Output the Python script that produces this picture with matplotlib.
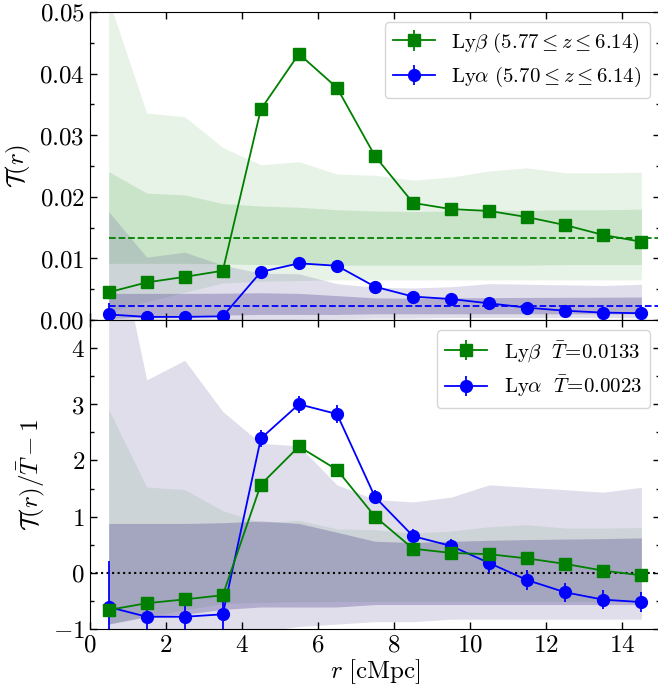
import numpy as np
import matplotlib
matplotlib.use('Agg')
import matplotlib.pyplot as plt
from matplotlib.ticker import FuncFormatter, MultipleLocator

plt.rcParams['mathtext.fontset'] = 'cm'
plt.rcParams['font.family'] = 'serif'

# bin centres [cMpc]
r = np.arange(0.5, 15.0, 1.0)

# transmission T(r) around galaxies
T_beta = [0.0045, 0.0061, 0.0070, 0.0080, 0.0342, 0.0432, 0.0377, 0.0266,
          0.0190, 0.0180, 0.0177, 0.0167, 0.0154, 0.0138, 0.0127]
T_beta_err = [0.0004, 0.0004, 0.0004, 0.0004, 0.0004, 0.0004, 0.0004, 0.0004,
              0.0004, 0.0004, 0.0004, 0.0004, 0.0004, 0.0004, 0.0004]
T_alpha = [0.0009, 0.0005, 0.0005, 0.0006, 0.0078, 0.0092, 0.0088, 0.0054,
           0.0038, 0.0034, 0.0027, 0.0020, 0.0015, 0.0012, 0.0011]
T_alpha_err = [0.0019, 0.0007, 0.0007, 0.0006, 0.00035, 0.00035, 0.00035, 0.0003,
               0.0003, 0.0003, 0.0004, 0.0004, 0.0004, 0.0004, 0.0004]

# mean transmission
Tbar_beta = 0.0133
Tbar_alpha = 0.0023

# random-position bands (inner / outer)
beta_out_hi = [0.052, 0.0336, 0.0330, 0.0280, 0.0252, 0.0257, 0.0237, 0.0235,
               0.0227, 0.0232, 0.0242, 0.0247, 0.0239, 0.0239, 0.0240]
beta_out_lo = [0.0012, 0.0030, 0.0045, 0.0060, 0.0063, 0.0064, 0.0065, 0.0065,
               0.0065, 0.0065, 0.0065, 0.0065, 0.0065, 0.0065, 0.0065]
beta_in_hi = [0.0241, 0.0206, 0.0203, 0.0189, 0.0185, 0.0183, 0.0179, 0.0177,
              0.0176, 0.0177, 0.0178, 0.0178, 0.0179, 0.0179, 0.0180]
beta_in_lo = [0.0092, 0.0092, 0.0092, 0.0091, 0.0090, 0.0090, 0.0089, 0.0089,
              0.0089, 0.0089, 0.0089, 0.0089, 0.0090, 0.0090, 0.0090]
alpha_out_hi = [0.0176, 0.0102, 0.0110, 0.0089, 0.0076, 0.0075, 0.0059, 0.0053,
                0.0052, 0.0054, 0.0059, 0.0058, 0.0057, 0.0056, 0.0058]
alpha_out_lo = [-0.0020, -0.0012, -0.0008, -0.0004, -0.0001, 0.0001, 0.0002, 0.0003,
                0.0003, 0.0004, 0.0004, 0.0004, 0.0004, 0.0004, 0.0004]
alpha_in_hi = [0.00432, 0.00432, 0.00432, 0.00435, 0.00442, 0.00432, 0.00396, 0.00359,
               0.00354, 0.00359, 0.00363, 0.00366, 0.00368, 0.00370, 0.00373]
alpha_in_lo = [0.0002, 0.0005, 0.0006, 0.0008, 0.0009, 0.0009, 0.0009, 0.0010,
               0.0010, 0.0010, 0.0010, 0.0010, 0.0010, 0.0010, 0.0010]

lab_top = [r'$\mathrm{Ly}\beta\ (5.77 \leq z \leq 6.14)$',
           r'$\mathrm{Ly}\alpha\ (5.70 \leq z \leq 6.14)$']
lab_bot = [r'$\mathrm{Ly}\beta\ \ \bar{T}\!=\!0.0133$',
           r'$\mathrm{Ly}\alpha\ \ \bar{T}\!=\!0.0023$']

gcol = 'green'
bcol = 'blue'
pcol = 'darkslateblue'

fig = plt.figure(figsize=(6.58, 6.88), dpi=100)
ax1 = fig.add_axes([0.1362, 0.5349, 0.8675, 0.4477])
ax2 = fig.add_axes([0.1362, 0.0858, 0.8675, 0.4491], sharex=ax1)

def arr(a):
    return np.asarray(a, dtype=float)

# ---- top panel
ax1.fill_between(r, beta_out_lo, beta_out_hi, color=gcol, alpha=0.09, lw=0)
ax1.fill_between(r, beta_in_lo, beta_in_hi, color=gcol, alpha=0.13, lw=0)
ax1.fill_between(r, alpha_out_lo, alpha_out_hi, color=pcol, alpha=0.17, lw=0)
ax1.fill_between(r, alpha_in_lo, alpha_in_hi, color=pcol, alpha=0.3, lw=0)
ax1.axhline(Tbar_beta, color=gcol, ls='--', lw=1.3, xmin=0.5/15)
ax1.axhline(Tbar_alpha, color=bcol, ls='--', lw=1.3, xmin=0.5/15)
ax1.errorbar(r, T_beta, yerr=T_beta_err, color=gcol, marker='s', ms=8.5,
             lw=1.3, capsize=0, label=lab_top[0], zorder=5)
ax1.errorbar(r, T_alpha, yerr=T_alpha_err, color=bcol, marker='o', ms=8.5,
             lw=1.3, capsize=0, label=lab_top[1], zorder=4)
ax1.set_ylim(0, 0.05)
ax1.set_ylabel(r'$\mathcal{T}(r)$', fontsize=18)
ax1.yaxis.set_major_locator(MultipleLocator(0.01))
ax1.yaxis.set_minor_locator(MultipleLocator(0.005))
ax1.yaxis.set_major_formatter(FuncFormatter(lambda v, p: f'${v:.2f}$'))
ax1.tick_params(labelbottom=False)
ax1.legend(loc='upper right', fontsize=15)

# ---- bottom panel: normalised by mean
ax2.fill_between(r, arr(beta_out_lo) / Tbar_beta - 1, arr(beta_out_hi) / Tbar_beta - 1,
                 color=gcol, alpha=0.09, lw=0)
ax2.fill_between(r, arr(alpha_out_lo) / Tbar_alpha - 1, arr(alpha_out_hi) / Tbar_alpha - 1,
                 color=pcol, alpha=0.17, lw=0)
ax2.fill_between(r, arr(alpha_in_lo) / Tbar_alpha - 1, arr(alpha_in_hi) / Tbar_alpha - 1,
                 color=pcol, alpha=0.3, lw=0)
ax2.axhline(0, color='k', ls=':', lw=1.5)
ax2.errorbar(r, arr(T_beta) / Tbar_beta - 1, yerr=arr(T_beta_err) / Tbar_beta,
             color=gcol, marker='s', ms=8.5, lw=1.3, capsize=0, label=lab_bot[0], zorder=5)
ax2.errorbar(r, arr(T_alpha) / Tbar_alpha - 1, yerr=arr(T_alpha_err) / Tbar_alpha,
             color=bcol, marker='o', ms=8.5, lw=1.3, capsize=0, label=lab_bot[1], zorder=4)
ax2.set_ylim(-1, 4.5)
ax2.set_xlim(0, 15)
ax2.set_ylabel(r'$\mathcal{T}(r)/\bar{T}-1$', fontsize=18)
ax2.set_xlabel(r'$r\ [\mathrm{cMpc}]$', fontsize=18, labelpad=0)
ax2.yaxis.set_major_locator(MultipleLocator(1))
ax2.yaxis.set_minor_locator(MultipleLocator(0.5))
ax2.yaxis.set_major_formatter(FuncFormatter(lambda v, p: f'${v:.0f}$'))
ax2.xaxis.set_major_locator(MultipleLocator(2))
ax2.xaxis.set_major_formatter(FuncFormatter(lambda v, p: f'${v:.0f}$'))
ax2.legend(loc='upper right', fontsize=15)

for ax in (ax1, ax2):
    ax.tick_params(which='both', direction='in', top=True, right=True, width=1)
    ax.tick_params(which='major', length=5, labelsize=18)
    ax.tick_params(which='minor', length=3)
    ax.tick_params(axis='x', which='minor', bottom=False, top=False)

fig.savefig('out.png', dpi=100)
